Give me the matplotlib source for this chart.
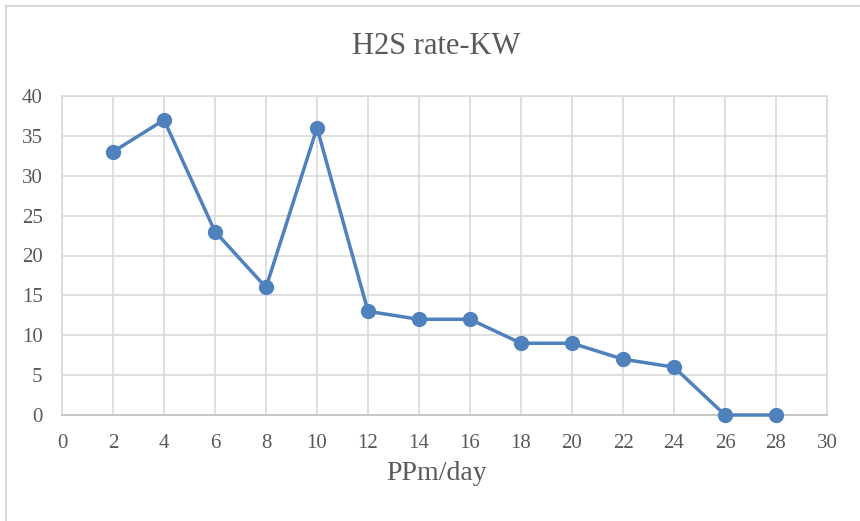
import matplotlib.pyplot as plt
from matplotlib.patches import Rectangle

# H2S rate vs PPm/day
ppm_day = [2, 4, 6, 8, 10, 12, 14, 16, 18, 20, 22, 24, 26, 28]
h2s_rate = [33, 37, 23, 16, 36, 13, 12, 12, 9, 9, 7, 6, 0, 0]
x_ticks = list(range(0, 31, 2))
y_ticks = list(range(0, 41, 5))

text_color = "#595959"
grid_color = "#d9d9d9"
line_color = "#4f81bd"

plt.rcParams["font.family"] = ["Liberation Serif", "DejaVu Serif"]

fig = plt.figure(figsize=(8.6, 5.21), dpi=100)
W, H = 860, 521
ax = fig.add_axes([62 / W, 1 - 415 / H, (827 - 62) / W, (415 - 96) / H])

# outer chart border (cropped on right and bottom)
fig.patches.append(
    Rectangle((6 / W, -0.1), 1.2, 1 - 6 / H + 0.1, transform=fig.transFigure,
              fill=False, edgecolor=grid_color, lw=1.5)
)

ax.plot(ppm_day, h2s_rate, color=line_color, lw=2.5, marker="o",
        markersize=10, zorder=3, clip_on=False)

ax.set_xlim(0, 30)
ax.set_ylim(0, 40)
ax.set_xticks(x_ticks)
ax.set_yticks(y_ticks)
ax.grid(True, color=grid_color, lw=1.2)
ax.set_axisbelow(True)
for side in ["top", "right", "left"]:
    ax.spines[side].set_color(grid_color)
    ax.spines[side].set_linewidth(1.2)
ax.spines["bottom"].set_color("#bfbfbf")
ax.spines["bottom"].set_linewidth(1.2)
ax.tick_params(length=0, labelsize=15, labelcolor=text_color)
ax.tick_params(axis="x", pad=14)
ax.tick_params(axis="y", pad=14)

fig.text(436 / W, 1 - 46 / H, "H2S rate-KW", ha="center", va="center",
         fontsize=22, color=text_color)
fig.text(437 / W, 1 - 474 / H, "PPm/day", ha="center", va="center",
         fontsize=20, color=text_color)

plt.savefig("out.png", dpi=100)
